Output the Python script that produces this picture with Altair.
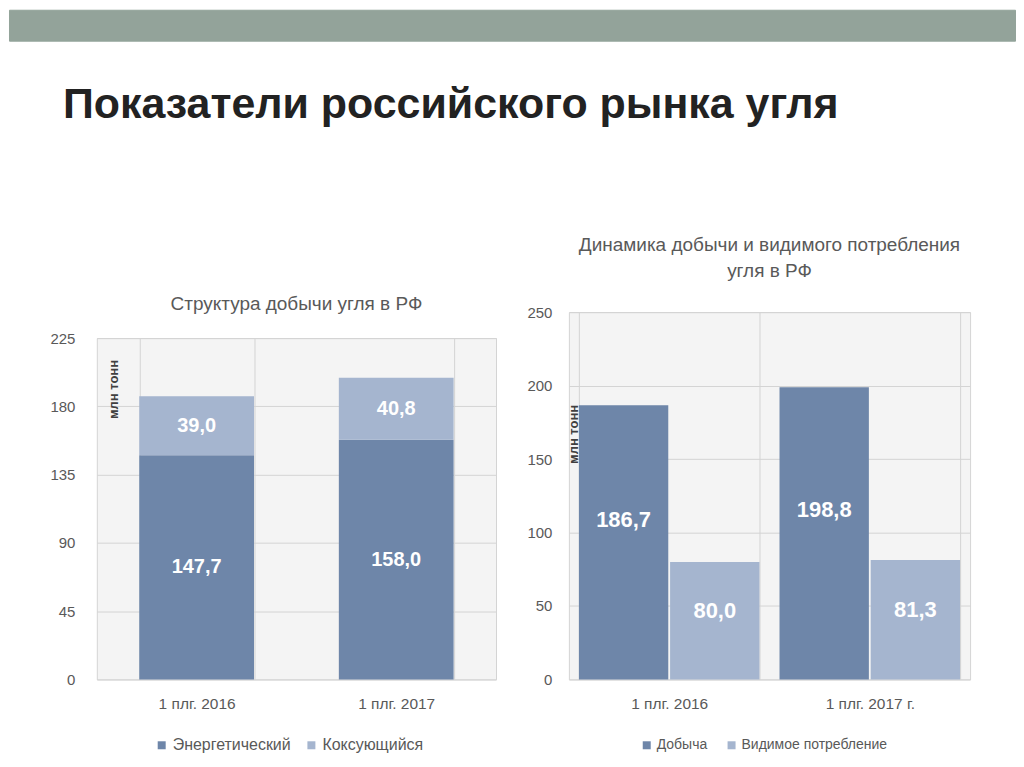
import altair as alt
import pandas as pd

MAIN_TITLE = "Показатели российского рынка угля"

# Left chart: structure of coal production
title_left = "Структура добычи угля в РФ"
categories_left = ["1 плг. 2016", "1 плг. 2017"]
series_left = ["Энергетический", "Коксующийся"]
energetic = [147.7, 158.0]
coking = [39.0, 40.8]
left_ticks = [0, 45, 90, 135, 180, 225]

# Right chart: production vs apparent consumption
title_right = ["Динамика добычи и видимого потребления", "угля в РФ"]
categories_right = ["1 плг. 2016", "1 плг. 2017 г."]
series_right = ["Добыча", "Видимое потребление"]
production = [186.7, 198.8]
consumption = [80.0, 81.3]
right_ticks = [0, 50, 100, 150, 200, 250]

unit = "млн тонн"

DARK = "#6e86a9"
LIGHT = "#a5b5cf"
GRID = "#d4d4d4"
PLOT_BG = "#f4f4f4"
GRAY = "#595959"
FONT = "Liberation Sans"
BAND = "#93a39a"


def fmt(v):
    return f"{v:.1f}".replace(".", ",")


rows = []
for i, c in enumerate(categories_left):
    rows.append(dict(cat=c, series=series_left[0], value=energetic[i], order=0,
                     mid=energetic[i] / 2, label=fmt(energetic[i])))
    rows.append(dict(cat=c, series=series_left[1], value=coking[i], order=1,
                     mid=energetic[i] + coking[i] / 2, label=fmt(coking[i])))
df_left = pd.DataFrame(rows)

rows = []
for i, c in enumerate(categories_right):
    rows.append(dict(cat=c, series=series_right[0], value=production[i], label=fmt(production[i])))
    rows.append(dict(cat=c, series=series_right[1], value=consumption[i], label=fmt(consumption[i])))
df_right = pd.DataFrame(rows)


def x_axis():
    return alt.Axis(title=None, labelAngle=0, ticks=False, domain=False, grid=True,
                    tickBand="extent", gridColor=GRID, labelPadding=17, labelFontSize=15.5,
                    labelColor=GRAY, labelFont=FONT)


def y_axis(values, tx, ty, pad):
    return alt.Axis(values=values, title=unit, titleAngle=270, titleX=tx, titleY=ty,
                    titleFontSize=13, titleColor="#404040", titleFont=FONT,
                    titleFontWeight="bold", titleAlign="center", titleBaseline="middle",
                    ticks=False, domain=False, gridColor=GRID, labelPadding=pad,
                    labelFontSize=15, labelColor=GRAY, labelFont=FONT)


def legend(lx, ly, fs, cp, lo):
    return alt.Legend(title=None, orient="none", direction="horizontal", legendX=lx,
                      legendY=ly, symbolType="square", symbolSize=64, symbolStrokeWidth=0,
                      labelFontSize=fs, labelColor=GRAY, labelFont=FONT, columnPadding=cp,
                      labelOffset=lo)


# ---------- left chart ----------
xl = alt.X("cat:N", sort=categories_left,
           scale=alt.Scale(paddingInner=0.425, paddingOuter=0.2125), axis=x_axis())
yl_scale = alt.Scale(domain=[0, 225], nice=False)
yl_axis = y_axis(left_ticks, 17, 51, 22)

bars_l = alt.Chart(df_left).mark_bar().encode(
    x=xl,
    y=alt.Y("value:Q", stack="zero", scale=yl_scale, axis=yl_axis),
    color=alt.Color("series:N", scale=alt.Scale(domain=series_left, range=[DARK, LIGHT]),
                    legend=legend(57, 400, 16, 12, 3)),
    order=alt.Order("order:Q"),
)
text_l = alt.Chart(df_left).mark_text(color="white", fontWeight="bold", fontSize=20,
                                      font=FONT, baseline="middle").encode(
    x=xl,
    y=alt.Y("mid:Q", scale=yl_scale, axis=yl_axis),
    text="label:N",
)
left = alt.layer(bars_l, text_l).properties(
    width=400, height=342,
    view=alt.ViewBackground(fill=PLOT_BG, stroke=GRID),
    title=alt.TitleParams(text=title_left, fontSize=19, font=FONT, color=GRAY,
                          fontWeight="normal", offset=17, anchor="middle"),
)

# ---------- right chart ----------
xr = alt.X("cat:N", sort=categories_right,
           scale=alt.Scale(paddingInner=0.1, paddingOuter=0.05), axis=x_axis())
xo = alt.XOffset("series:N", sort=series_right, scale=alt.Scale(paddingInner=0.02))
yr_scale = alt.Scale(domain=[0, 250], nice=False)
yr_axis = y_axis(right_ticks, 5, 122, 17)

bars_r = alt.Chart(df_right).mark_bar().encode(
    x=xr, xOffset=xo,
    y=alt.Y("value:Q", scale=yr_scale, axis=yr_axis),
    color=alt.Color("series:N", scale=alt.Scale(domain=series_right, range=[DARK, LIGHT]),
                    legend=legend(71, 427, 14, 17, 3)),
)
text_r = alt.Chart(df_right).transform_calculate(
    pos="datum.value * 0.58"
).mark_text(color="white", fontWeight="bold", fontSize=22, font=FONT,
            baseline="middle").encode(
    x=xr, xOffset=xo,
    y=alt.Y("pos:Q", scale=yr_scale, axis=yr_axis),
    text="label:N",
)
right = alt.layer(bars_r, text_r).properties(
    width=402, height=368,
    view=alt.ViewBackground(fill=PLOT_BG, stroke=GRID),
    title=alt.TitleParams(text=title_right, fontSize=19, font=FONT, color=GRAY,
                          fontWeight="normal", offset=24, anchor="middle", lineHeight=26),
)

# ---------- spacers and header ----------
blank = pd.DataFrame({"t": [""]})


def spacer(w, h):
    return alt.Chart(blank).mark_text(opacity=0).encode(text="t:N").properties(
        width=w, height=h, view=alt.ViewBackground(fill="white", stroke="white"))


header = alt.Chart(blank).mark_text(opacity=0).encode(text="t:N").properties(
    width=1008, height=31,
    view=alt.ViewBackground(fill=BAND, stroke=BAND),
    title=alt.TitleParams(text=MAIN_TITLE, orient="bottom", anchor="start", dx=54,
                          offset=43, fontSize=43, font=FONT,
                          fontWeight="bold", color="#222222"),
)

left_col = alt.vconcat(spacer(100, 64), left, spacing=0).resolve_scale(color="independent")
right_col = alt.vconcat(spacer(100, 1), right, spacing=0).resolve_scale(color="independent")
row = alt.hconcat(spacer(10, 10), left_col, right_col, spacing=29).resolve_scale(
    color="independent", x="independent", y="independent")

chart = alt.vconcat(header, row, spacing=96).resolve_scale(
    color="independent").properties(padding=0, background="white")

chart.save("out.html", embed_options={"renderer": "svg", "actions": False})
